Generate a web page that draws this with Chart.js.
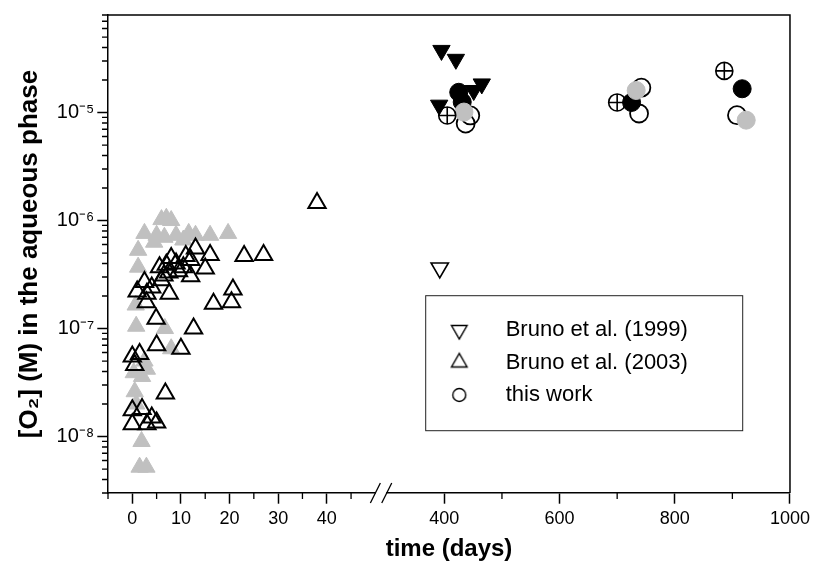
<!DOCTYPE html>
<html><head><meta charset="utf-8">
<script src="https://cdn.jsdelivr.net/npm/chart.js@4.4.1/dist/chart.umd.min.js"></script>
<style>html,body{margin:0;padding:0;background:#fff}#wrap{width:815px;height:566px}</style>
</head><body><div id="wrap"><canvas id="c" width="815" height="566"></canvas></div>
<script>
// ---------------- data ----------------
const seriesNames = ['Bruno et al. (1999)', 'Bruno et al. (2003)', 'this work'];

const bruno1999OpenDays = [392];
const bruno1999OpenO2   = [3.64e-7];
const bruno1999FilledDays = [395, 420, 465, 451, 391];
const bruno1999FilledO2   = [3.76e-5, 3.11e-5, 1.84e-5, 1.6e-5, 1.17e-5];

const bruno2003OpenDays = [0, 1.5, 0.5, 5, 10, 6.8, 0, 2, 4, 5, 0, 3, 4.9, 12.6, 2.9, 16.7, 20.4, 20.7, 7.6, 2.5,
  6, 12, 15, 5.6, 7, 9, 12, 13, 16, 23, 27, 38, 8, 10.5, 11, 7.5, 9.5, 6.5, 4, 3, 1];
const bruno2003OpenO2 = [5.5e-8, 5.8e-8, 4.6e-8, 7.0e-8, 6.5e-8, 2.5e-8, 1.75e-8, 1.8e-8, 1.5e-8, 1.35e-8, 1.3e-8, 1.3e-8,
  1.23e-7, 1.0e-7, 1.75e-7, 1.7e-7, 1.75e-7, 2.3e-7, 2.1e-7, 2.7e-7,
  2.8e-7, 3.05e-7, 3.6e-7, 3.7e-7, 3.9e-7, 4.0e-7, 4.3e-7, 5.5e-7, 4.8e-7, 4.7e-7, 4.8e-7, 1.45e-6,
  4.5e-7, 3.7e-7, 4.7e-7, 3.3e-7, 3.4e-7, 3.1e-7, 2.4e-7, 2.1e-7, 2.2e-7];

const bruno2003GrayDays = [6, 7, 8, 2.5, 5, 6.6, 9, 11.6, 13, 16, 19.7, 4.5, 10.5, 1.2, 1.2, 0.7, 0.8, 6.7, 8,
  2.5, 0.3, 2, 0.5, 0.8, 1.9, 1.5, 2.9, 3];
const bruno2003GrayO2 = [1.02e-6, 1.05e-6, 1.0e-6, 7.6e-7, 7.3e-7, 7.0e-7, 7.3e-7, 7.6e-7, 7.3e-7, 7.3e-7, 7.6e-7,
  6.3e-7, 6.6e-7, 5.3e-7, 3.7e-7, 1.65e-7, 1.05e-7, 1.0e-7, 6.5e-8,
  5.0e-8, 3.9e-8, 3.6e-8, 2.6e-8, 2.0e-8, 9.0e-9, 5.2e-9, 5.2e-9, 4.2e-8];

const thisWorkOpenDays  = [437, 445, 738, 742, 908];
const thisWorkOpenO2    = [7.9e-6, 9.4e-6, 9.8e-6, 1.7e-5, 9.45e-6];
const thisWorkBlackDays = [425, 431, 725, 917];
const thisWorkBlackO2   = [1.54e-5, 1.25e-5, 1.24e-5, 1.66e-5];
const thisWorkGrayDays  = [434, 733, 924];
const thisWorkGrayO2    = [1.01e-5, 1.6e-5, 8.5e-6];
const thisWorkCrossDays = [405, 700, 886];
const thisWorkCrossO2   = [9.4e-6, 1.24e-5, 2.43e-5];

const xTickDays  = [0, 10, 20, 30, 40, 400, 600, 800, 1000];
const xMinorDays = [-5, 5, 15, 25, 35, 45, 500, 700, 900];
const yTickExponents = [-8, -7, -6, -5];

// ---------------- broken x axis mapping ----------------
const X_MIN = -5, BREAK_LO = 50, BREAK_HI = 300, X_MAX = 1000;
const GAP = 2.34, K = 0.1185;
function u(d) { return d <= BREAK_LO ? d : BREAK_LO + GAP + (d - BREAK_HI) * K; }
function pts(days, vals) { return days.map((d, i) => ({ x: u(d), y: vals[i] })); }

const SUP = {'-':'\u207B','0':'\u2070','1':'\u00B9','2':'\u00B2','3':'\u00B3','4':'\u2074','5':'\u2075','6':'\u2076','7':'\u2077','8':'\u2078','9':'\u2079'};
function sup(n) { return String(n).split('').map(c => SUP[c]).join(''); }

const FONT = "'Liberation Sans', Arial, Helvetica, sans-serif";
Chart.defaults.font.family = FONT;
Chart.defaults.color = '#000';

const GRAY = '#c0c0c0';

function makeSymbol(kind) {
  const W = 24, H = 24, s = 12, cy = 12;
  const cv = document.createElement('canvas');
  cv.width = W; cv.height = H;
  const g = cv.getContext('2d');
  g.strokeStyle = '#000'; g.lineWidth = 1.4;
  g.beginPath();
  if (kind === 'down') {
    const r = 9;
    g.moveTo(s - r * 0.866, cy - r / 2); g.lineTo(s + r * 0.866, cy - r / 2); g.lineTo(s, cy + r); g.closePath();
  } else if (kind === 'up') {
    const r = 9;
    g.moveTo(s - r * 0.866, cy + r / 2); g.lineTo(s + r * 0.866, cy + r / 2); g.lineTo(s, cy - r); g.closePath();
  } else {
    g.arc(s, cy, 6.5, 0, Math.PI * 2);
  }
  g.stroke();
  return cv;
}
const legendSymbols = [makeSymbol('down'), makeSymbol('up'), makeSymbol('circle')];

const ds = [
  { label: seriesNames[0], data: pts(bruno1999OpenDays, bruno1999OpenO2), pointStyle: 'triangle', rotation: 180,
    pointRadius: 10, backgroundColor: 'rgba(0,0,0,0)', borderColor: '#000', borderWidth: 1.6, order: 5 },
  { label: seriesNames[1], data: pts(bruno2003OpenDays, bruno2003OpenO2), pointStyle: 'triangle',
    pointRadius: 10, backgroundColor: 'rgba(0,0,0,0)', borderColor: '#000', borderWidth: 2, order: 6 },
  { label: seriesNames[2], data: pts(thisWorkOpenDays, thisWorkOpenO2), pointStyle: 'circle',
    pointRadius: 9, backgroundColor: 'rgba(0,0,0,0)', borderColor: '#000', borderWidth: 1.8, order: 4 },
  { label: 'Bruno et al. (1999) filled', data: pts(bruno1999FilledDays, bruno1999FilledO2), pointStyle: 'triangle', rotation: 180,
    pointRadius: 10, backgroundColor: '#000', borderColor: '#000', borderWidth: 1, order: 3 },
  { label: 'Bruno et al. (2003) gray', data: pts(bruno2003GrayDays, bruno2003GrayO2), pointStyle: 'triangle',
    pointRadius: 10, backgroundColor: GRAY, borderColor: GRAY, borderWidth: 1, order: 7 },
  { label: 'this work black', data: pts(thisWorkBlackDays, thisWorkBlackO2), pointStyle: 'circle',
    pointRadius: 9, backgroundColor: '#000', borderColor: '#000', borderWidth: 1, order: 2 },
  { label: 'this work gray', data: pts(thisWorkGrayDays, thisWorkGrayO2), pointStyle: 'circle',
    pointRadius: 9, backgroundColor: GRAY, borderColor: GRAY, borderWidth: 1, order: 1 },
  { label: 'this work crossed', data: pts(thisWorkCrossDays, thisWorkCrossO2), pointStyle: 'circle',
    pointRadius: 8.5, backgroundColor: 'rgba(0,0,0,0)', borderColor: '#000', borderWidth: 1.6, order: 0 },
  { label: 'this work crossed (cross)', data: pts(thisWorkCrossDays, thisWorkCrossO2), pointStyle: 'cross',
    pointRadius: 8.5, backgroundColor: 'rgba(0,0,0,0)', borderColor: '#000', borderWidth: 1.6, order: 0 }
];
ds.forEach(d => { d.showLine = false; d.pointHoverRadius = d.pointRadius; });

const LEGEND_BOX = { left: 425.7, top: 295.7, right: 742.7, bottom: 430.7 };
const LEGEND_PAD = 10.5, LEGEND_SYMW = 70.8;

const framePlugin = {
  id: 'frame',
  afterLayout(chart) {
    const lg = chart.legend;
    if (!lg) return;
    const L = 459.3 - LEGEND_SYMW / 2 - LEGEND_PAD, T = 308.5;
    lg.left = L; lg.top = T; lg.right = L + 320; lg.bottom = T + 130;
  },
  beforeDraw(chart) {
    const c = chart.ctx;
    c.save(); c.fillStyle = '#fff'; c.fillRect(0, 0, chart.width, chart.height); c.restore();
  },
  afterDraw(chart) {
    const c = chart.ctx, a = chart.chartArea;
    const xs = chart.scales.x, ys = chart.scales.y;
    c.save();
    c.strokeStyle = '#000';
    c.lineWidth = 1.5;
    c.beginPath();
    c.moveTo(a.left, a.top); c.lineTo(a.right, a.top); c.lineTo(a.right, a.bottom);
    c.stroke();
    c.lineWidth = 1.3;
    c.beginPath();
    xMinorDays.forEach(d => { const px = xs.getPixelForValue(u(d)); c.moveTo(px, a.bottom); c.lineTo(px, a.bottom + 6); });
    for (let e = -9; e <= -5; e++) {
      for (let k = 2; k <= 9; k++) {
        const v = k * Math.pow(10, e);
        if (v < ys.min || v > ys.max) continue;
        const py = ys.getPixelForValue(v);
        c.moveTo(a.left - 6, py); c.lineTo(a.left, py);
      }
    }
    c.stroke();
    const g1 = xs.getPixelForValue(u(BREAK_LO)), g2 = xs.getPixelForValue(u(BREAK_HI));
    c.fillStyle = '#fff';
    c.fillRect(g1 + 0.5, a.bottom - 2, g2 - g1 - 1, 4);
    c.lineWidth = 1.3;
    c.beginPath();
    [g1, g2].forEach(g => { c.moveTo(g - 5, a.bottom + 10); c.lineTo(g + 5, a.bottom - 10); });
    c.stroke();
    c.lineWidth = 1;
    c.strokeStyle = '#222';
    c.strokeRect(LEGEND_BOX.left, LEGEND_BOX.top, LEGEND_BOX.right - LEGEND_BOX.left, LEGEND_BOX.bottom - LEGEND_BOX.top);
    c.restore();
  }
};

new Chart(document.getElementById('c'), {
  type: 'scatter',
  data: { datasets: ds },
  options: {
    responsive: false,
    animation: false,
    events: [],
    layout: { padding: { top: 9, right: 11.5, bottom: 0, left: 0 } },
    plugins: {
      tooltip: { enabled: false },
      legend: {
        position: 'chartArea',
        align: 'start',
        labels: {
          usePointStyle: true,
          pointStyleWidth: LEGEND_SYMW,
          padding: LEGEND_PAD,
          color: '#000',
          font: { family: FONT, size: 22 },
          generateLabels: () => seriesNames.map((t, i) => ({
            text: t, pointStyle: legendSymbols[i], rotation: 0, fillStyle: '#fff',
            strokeStyle: '#000', lineWidth: 0, hidden: false, datasetIndex: i, fontColor: '#000'
          }))
        }
      }
    },
    scales: {
      x: {
        type: 'linear',
        min: X_MIN,
        max: u(X_MAX),
        afterBuildTicks: s => { s.ticks = xTickDays.map(d => ({ value: u(d) })); },
        afterFit: s => { s.height = 73; },
        ticks: {
          autoSkip: false, maxRotation: 0, padding: 5, color: '#000',
          font: { family: FONT, size: 18 },
          callback: (v, i) => String(xTickDays[i])
        },
        grid: { display: true, drawOnChartArea: false, tickLength: 10.7, tickColor: '#000', tickWidth: 1.5 },
        border: { display: true, color: '#000', width: 1.5 },
        title: { display: true, text: 'time (days)', color: '#000',
          font: { family: FONT, size: 24, weight: 'bold' }, padding: { top: 0, bottom: 2 } }
      },
      y: {
        type: 'logarithmic',
        min: 3e-9,
        max: 8e-5,
        afterBuildTicks: s => { s.ticks = yTickExponents.map(e => ({ value: Math.pow(10, e) })); },
        afterFit: s => { s.width = 108; },
        ticks: {
          autoSkip: false, padding: 3, color: '#000',
          font: { family: FONT, size: 20 },
          callback: (v, i) => '10' + sup(yTickExponents[i])
        },
        grid: { display: true, drawOnChartArea: false, tickLength: 10.7, tickColor: '#000', tickWidth: 1.5 },
        border: { display: true, color: '#000', width: 1.5 },
        title: { display: true, text: '[O\u2082] (M) in the aqueous phase', color: '#000',
          font: { family: FONT, size: 26, weight: 'bold' }, padding: { top: 14, bottom: 0 } }
      }
    }
  },
  plugins: [framePlugin]
});
</script>
</body></html>
